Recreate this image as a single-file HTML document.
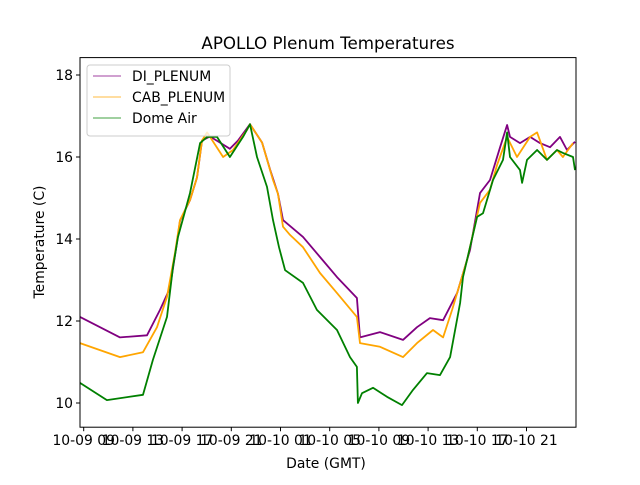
<!DOCTYPE html>
<html><head><meta charset="utf-8"><style>
body{margin:0;background:#fff;}
svg text{font-family:"DejaVu Sans","Liberation Sans",sans-serif;fill:#000;}
</style></head><body>
<svg id="chart" width="640" height="480" viewBox="0 0 640 480" xmlns="http://www.w3.org/2000/svg">
<rect width="640" height="480" fill="#fff"/>
<text x="328" y="49" font-size="16.7" text-anchor="middle">APOLLO Plenum Temperatures</text>
<text x="326" y="468" font-size="13.9" text-anchor="middle">Date (GMT)</text>
<text transform="translate(44,242) rotate(-90)" font-size="13.9" text-anchor="middle">Temperature (C)</text>
<g id="series"></g>
<g id="axes"></g>
<g>
<rect x="87" y="65" width="143" height="71" rx="3" fill="#fff" fill-opacity="0.8" stroke="#ccc"/>
<line x1="93" y1="76" x2="121" y2="76" stroke="purple" stroke-width="0.8"/>
<text x="132" y="81" font-size="13.9">DI_PLENUM</text>
<line x1="93" y1="97" x2="121" y2="97" stroke="orange" stroke-width="0.8"/>
<text x="132" y="102" font-size="13.9">CAB_PLENUM</text>
<line x1="93" y1="118" x2="121" y2="118" stroke="green" stroke-width="0.8"/>
<text x="132" y="123" font-size="13.9">Dome Air</text>
</g>
</svg>
<script>
const xTickHours=[9,13,17,21,25,29,33,37,41,45];
const xTickLabels=["10-09 09","10-09 13","10-09 17","10-09 21","10-10 01","10-10 05","10-10 09","10-10 13","10-10 17","10-10 21"];
const yTicks=[10,12,14,16,18];
const diTimes=[8.7,11.95,14.15,15.2,16.01,16.58,16.83,17.64,18.21,18.62,19.27,20.08,20.89,21.54,22.52,23.5,24.15,24.8,25.2,26.83,28.21,29.59,31.21,31.46,33.09,34.96,36.1,37.15,38.22,39.36,40.41,41.22,42.03,42.85,43.42,43.66,44.47,45.29,46.1,46.91,47.72,48.29,48.94];
const diValues=[12.1,11.6,11.65,12.27,12.8,13.9,14.45,14.95,15.5,16.4,16.5,16.35,16.2,16.4,16.8,16.35,15.7,15.1,14.46,14.05,13.56,13.07,12.56,11.6,11.73,11.54,11.85,12.07,12.02,12.68,13.73,15.12,15.44,16.24,16.78,16.49,16.34,16.49,16.34,16.24,16.49,16.17,16.37];
const cabTimes=[8.7,11.95,13.82,14.96,15.77,16.42,16.83,17.64,18.21,18.62,19.03,20.33,21.14,22.28,22.52,23.5,24.39,24.8,25.2,25.77,26.83,28.21,29.59,31.21,31.46,33.09,34.96,36.1,37.4,38.22,38.95,40.17,41.22,42.03,42.6,43.42,44.23,45.29,45.86,46.67,47.48,47.96,48.78];
const cabValues=[11.46,11.12,11.24,11.85,12.59,13.66,14.46,14.95,15.5,16.4,16.6,16.0,16.17,16.66,16.8,16.35,15.44,15.1,14.3,14.1,13.8,13.17,12.68,12.1,11.46,11.37,11.12,11.46,11.78,11.6,12.27,13.49,14.88,15.2,15.8,16.49,16.0,16.49,16.6,15.93,16.17,16.0,16.34];
const domeTimes=[8.7,10.89,13.82,14.63,15.77,16.26,16.67,17.64,18.46,19.03,19.84,20.89,21.95,22.52,23.09,23.9,24.39,24.88,25.37,26.83,27.96,29.59,30.65,31.21,31.29,31.63,32.52,33.66,34.88,35.77,36.91,37.97,38.79,39.6,39.84,40.98,41.46,42.28,43.09,43.42,43.66,44.47,44.64,45.04,45.86,46.67,47.48,47.96,48.78,48.94];
const domeValues=[10.49,10.07,10.2,11.05,12.1,13.32,14.05,15.12,16.34,16.49,16.49,16.0,16.49,16.8,16.0,15.27,14.46,13.8,13.24,12.93,12.27,11.78,11.12,10.88,10.0,10.24,10.37,10.15,9.95,10.32,10.73,10.68,11.12,12.44,13.07,14.54,14.63,15.44,15.93,16.6,16.0,15.68,15.37,15.93,16.17,15.93,16.17,16.1,16.0,15.68];

const L=80,R=576,T=57.6,B=427.2;
const xScale=h=>83.7+(h-9)*12.3;
const yScale=v=>403-(v-10)*41;
const NS="http://www.w3.org/2000/svg";
const sg=document.getElementById('series');
function drawLine(times,vals,color,name){
  const p=document.createElementNS(NS,'polyline');
  
  
  p.setAttribute('points',times.map((t,i)=>xScale(t).toFixed(1)+','+yScale(vals[i]).toFixed(1)).join(' '));
  p.setAttribute('fill','none');p.setAttribute('stroke',color);p.setAttribute('stroke-width','1.8');
  p.setAttribute('stroke-linejoin','round');
  sg.appendChild(p);
}
drawLine(diTimes,diValues,'purple','di-plenum-line');
drawLine(cabTimes,cabValues,'orange','cab-plenum-line');
drawLine(domeTimes,domeValues,'green','dome-air-line');
const ax=document.getElementById('axes');
const frame=document.createElementNS(NS,'rect');


frame.setAttribute('x',L);frame.setAttribute('y',T);frame.setAttribute('width',R-L);frame.setAttribute('height',B-T);
frame.setAttribute('fill','none');frame.setAttribute('stroke','#000');frame.setAttribute('stroke-width','1');
ax.appendChild(frame);
xTickHours.forEach((h,i)=>{
  const x=xScale(h);
  const l=document.createElementNS(NS,'line');
  
  
  l.setAttribute('x1',x);l.setAttribute('x2',x);l.setAttribute('y1',B);l.setAttribute('y2',B+4);l.setAttribute('stroke','#000');
  ax.appendChild(l);
  const t=document.createElementNS(NS,'text');
  
  
  t.setAttribute('x',x);t.setAttribute('y',B+18);t.setAttribute('font-size','13.9');t.setAttribute('text-anchor','middle');
  t.textContent=xTickLabels[i];ax.appendChild(t);
});
yTicks.forEach(v=>{
  const y=yScale(v);
  const l=document.createElementNS(NS,'line');
  
  
  l.setAttribute('x1',L-4);l.setAttribute('x2',L);l.setAttribute('y1',y);l.setAttribute('y2',y);l.setAttribute('stroke','#000');
  ax.appendChild(l);
  const t=document.createElementNS(NS,'text');
  
  
  t.setAttribute('x',L-7);t.setAttribute('y',y+5);t.setAttribute('font-size','13.9');t.setAttribute('text-anchor','end');
  t.textContent=v;ax.appendChild(t);
});
</script>
</body></html>
